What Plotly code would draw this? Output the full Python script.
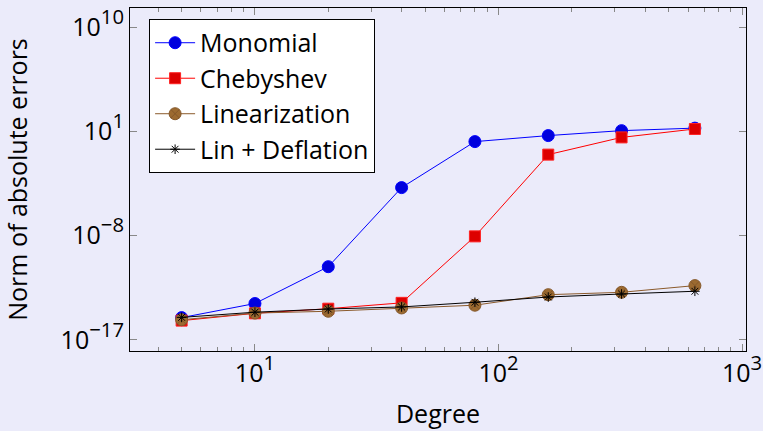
import plotly.graph_objects as go

degrees = [5, 10, 20, 40, 80, 160, 320, 640]
monomial = [8.5e-16, 1.4e-14, 2.1e-11, 1.4e-4, 1.3, 4.3, 11.5, 19]
chebyshev = [4.7e-16, 2.0e-15, 5.0e-15, 1.6e-14, 8.7e-9, 9.8e-2, 3.0, 16]
linearization = [5.6e-16, 2.1e-15, 3.0e-15, 5.8e-15, 1.0e-14, 8.1e-14, 1.3e-13, 4.9e-13]
lin_deflation = [8.9e-16, 2.5e-15, 4.7e-15, 7.1e-15, 1.8e-14, 5.1e-14, 9.3e-14, 1.6e-13]

SUP = "<span style='font-size:29px'><sup>{}</sup></span>"
x_tickvals = [10, 100, 1000]
x_ticktext = ["10" + SUP.format("1"), "10" + SUP.format("2"), "10" + SUP.format("3")]
y_tickvals = [1e-17, 1e-8, 1e1, 1e10]
y_ticktext = ["10" + SUP.format("−17"), "10" + SUP.format("−8"),
              "10" + SUP.format("1"), "10" + SUP.format("10")]
x_minor = [m * 10 ** e for e in range(0, 3) for m in range(2, 10)]

FONT = "Open Sans"
BG = "#EBEBFA"

fig = go.Figure()
fig.add_trace(go.Scatter(x=degrees, y=monomial, name="Monomial", mode="lines+markers",
                         line=dict(color="#0000FF", width=1),
                         marker=dict(symbol="circle", size=12, color="#0000DD",
                                     line=dict(color="#0000FF", width=1))))
fig.add_trace(go.Scatter(x=degrees, y=chebyshev, name="Chebyshev", mode="lines+markers",
                         line=dict(color="#FF0000", width=1),
                         marker=dict(symbol="square", size=11, color="#DD0000",
                                     line=dict(color="#FF2222", width=1))))
fig.add_trace(go.Scatter(x=degrees, y=linearization, name="Linearization", mode="lines+markers",
                         line=dict(color="#8B5A2B", width=1),
                         marker=dict(symbol="circle-x", size=12, color="#9C6A30",
                                     line=dict(color="#85582A", width=1))))
fig.add_trace(go.Scatter(x=degrees, y=lin_deflation, name="Lin + Deflation", mode="lines+markers",
                         line=dict(color="#000000", width=1),
                         marker=dict(symbol="asterisk-open", size=8, color="#000000",
                                     line=dict(color="#000000", width=1))))

axis_common = dict(showgrid=False, zeroline=False, showline=True, linecolor="#000000",
                   linewidth=1, mirror="ticks", ticks="inside", tickcolor="#888888",
                   ticklen=7, automargin=False,
                   tickfont=dict(family=FONT, size=25, color="#000000"))

fig.update_xaxes(type="log", range=[0.487, 3.016], tickvals=x_tickvals, ticktext=x_ticktext,
                 minor=dict(tickvals=x_minor, ticks="inside", ticklen=4, tickcolor="#888888"),
                 title=dict(text="Degree", font=dict(family=FONT, size=25, color="#000000"),
                            standoff=17),
                 **axis_common)
fig.update_yaxes(type="log", range=[-17.95, 11.64], tickvals=y_tickvals, ticktext=y_ticktext,
                 title=dict(text="Norm of absolute errors", font=dict(family=FONT, size=25, color="#000000"),
                            standoff=30),
                 **axis_common)

fig.update_layout(width=763, height=431, paper_bgcolor=BG, plot_bgcolor=BG,
                  margin=dict(l=130, r=17, t=8, b=80),
                  showlegend=True,
                  legend=dict(x=0.031, y=0.968, xanchor="left", yanchor="top",
                              bgcolor="#FFFFFF", bordercolor="#000000", borderwidth=1,
                              font=dict(family=FONT, size=25, color="#000000"),
                              itemwidth=40, tracegroupgap=0))

fig.write_html("out.html", config={"displayModeBar": False},
               post_script="document.body.style.margin='0';document.body.style.background='#EBEBFA';")
